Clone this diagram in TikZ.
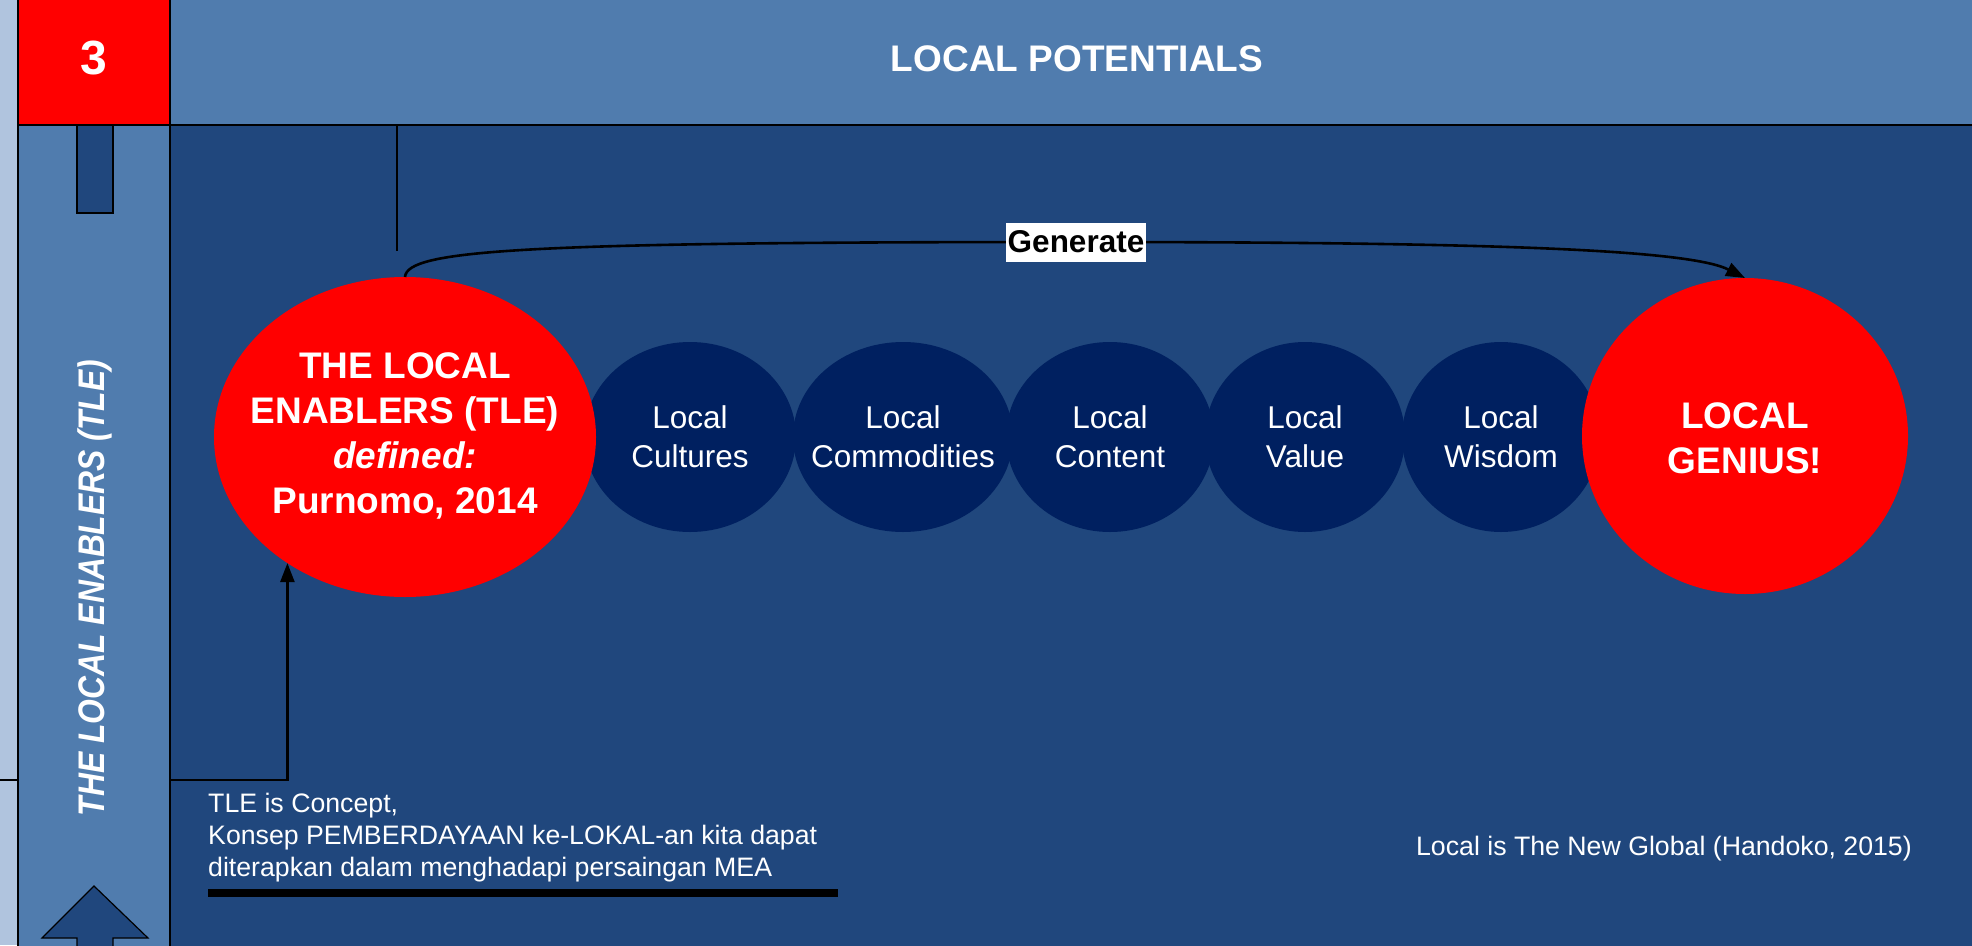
\documentclass[tikz,border=0pt]{standalone}
\usepackage{fontspec}
\setmainfont{Liberation Sans}
\usetikzlibrary{shapes.geometric,arrows.meta}
\definecolor{stripc}{RGB}{176,196,222}
\definecolor{hdrc}{RGB}{80,124,174}
\definecolor{mainc}{RGB}{32,71,125}
\definecolor{darkc}{RGB}{0,32,96}
\tikzset{
  ell/.style={ellipse, inner sep=0pt, outer sep=0pt},
  smallell/.style={ell, fill=darkc, minimum height=190pt},
  redell/.style={ell, fill=red},
  wtxt/.style={text=white, align=center, inner sep=0pt},
  bigbold/.style={wtxt, font=\fontsize{37}{45}\selectfont\bfseries},
  midtxt/.style={wtxt, font=\fontsize{31.5}{39}\selectfont},
  smalltxt/.style={text=white, inner sep=0pt, font=\fontsize{26.7}{32}\selectfont},
  conn/.style={draw=black, line width=2.6pt, -{Triangle[length=19pt,width=14pt]}},
  frame/.style={draw=black, line width=1.6pt}
}
\begin{document}
\begin{tikzpicture}[x=1pt,y=-1pt]
\useasboundingbox (0,0) rectangle (1972,945);
% background areas
\fill[stripc] (0,0) rectangle (18,945);
\filldraw[fill=mainc, frame] (170,125) rectangle (1975,950);

% chain of dark ellipses
\node[smallell, minimum width=212pt] (cul) at (690,437) {};
\node[smallell, minimum width=220pt] (com) at (903,437) {};
\node[smallell, minimum width=208pt] (con) at (1110,437) {};
\node[smallell, minimum width=200pt] (val) at (1305,437) {};
\node[smallell, minimum width=198pt] (wis) at (1501,437) {};
\node[midtxt] (cult) at (cul) {Local\\Cultures};
\node[midtxt] (comt) at (com) {Local\\Commodities};
\node[midtxt] (cont) at (con) {Local\\Content};
\node[midtxt] (valt) at (val) {Local\\Value};
\node[midtxt] (wist) at (wis) {Local\\Wisdom};

% red ellipses
\node[redell, minimum width=382pt, minimum height=320pt] (tle) at (405,437) {};
\node[redell, minimum width=326pt, minimum height=316pt] (gen) at (1745,436) {};
\node[bigbold] (tlet) at (405,436) {THE LOCAL\\ENABLERS (TLE)\\\textit{defined:}\\Purnomo, 2014};
\node[bigbold] (gent) at (1745,438) {LOCAL\\GENIUS!};

% thin vertical line
\coordinate (vt) at (397,125);
\coordinate (vb) at (397,251);
\draw[black, line width=1.6pt] (vt) -- (vb);

% Generate connector
\coordinate (gmid) at (1076,242);
\draw[conn] (tle.north) .. controls (407,250) and (520,242) .. (gmid)
  .. controls (1500,242) and (1690,250) .. (gen.north);
\node[fill=white, inner xsep=2pt, inner ysep=0pt, minimum height=39pt,
  font=\fontsize{31.5}{38}\selectfont\bfseries, text=black] (glab) at (gmid) {Generate};

% left connector
\coordinate (lsrc) at (0,780);
\draw[conn] (lsrc) -| (tle.227.6);

% left column
\filldraw[fill=hdrc, frame] (18,125) rectangle (170,950);
\filldraw[fill=mainc, draw=black, line width=1.2pt] (77,125) rectangle (113,213);
\filldraw[fill=mainc, draw=black, line width=1.2pt]
  (94,886) -- (148,938) -- (113,938) -- (113,952) -- (77,952) -- (77,938) -- (42,938) -- cycle;
\node[text=white, inner sep=0pt, rotate=90, font=\fontsize{37}{40}\selectfont\bfseries\itshape]
  (side) at (95,588) {\scalebox{0.86}[1]{THE LOCAL ENABLERS (TLE)}};

% header
\filldraw[fill=hdrc, frame] (170,-5) rectangle (1977,125);
\filldraw[fill=red, frame] (18,-5) rectangle (170,125);
\node[wtxt, font=\fontsize{48}{50}\selectfont\bfseries] (num) at (94,58) {3};
\node[bigbold] (title) at (1077,58.5) {LOCAL POTENTIALS};

% bottom texts
\node[smalltxt, align=left, anchor=north west] (note) at (208,792.5)
  {TLE is Concept,\\Konsep PEMBERDAYAAN ke-LOKAL-an kita dapat\\diterapkan dalam menghadapi persaingan MEA};
\fill[black] (208,889) rectangle (838,897);
\node[smalltxt, anchor=base east] (quote) at (1912,855) {Local is The New Global (Handoko, 2015)};
\end{tikzpicture}
\end{document}
